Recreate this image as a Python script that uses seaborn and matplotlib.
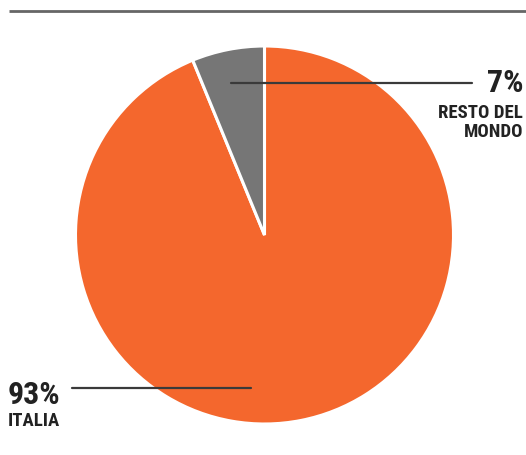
import matplotlib
matplotlib.use("Agg")
import matplotlib.pyplot as plt
import seaborn as sns

# data
labels = ["ITALIA", "RESTO DEL\nMONDO"]
pct_labels = ["93%", "7%"]
values = [93.8, 6.2]
colors = ["#F4672D", "#767676"]

sns.set_theme(style="white")
plt.rcParams["font.family"] = ["Roboto Condensed", "Liberation Sans Narrow", "Roboto", "DejaVu Sans"]

H = 456
fig = plt.figure(figsize=(5.26, 4.56), dpi=100)
ax = fig.add_axes([0, 0, 1, 1])

cx, cy, r = 264.5, H - 236, 189
ax.pie(values, colors=sns.color_palette(colors), startangle=90, counterclock=False,
       center=(cx, cy), radius=r,
       wedgeprops=dict(edgecolor="white", linewidth=2.2))
ax.set_xlim(0, 526)
ax.set_ylim(0, H)
ax.set_aspect("equal")
ax.axis("off")

# top rule
ax.plot([9, 526], [H - 12, H - 12], color="#666666", lw=2, solid_capstyle="butt")

# leader lines and labels
ax.plot([231, 472], [H - 84, H - 84], color="#3a3a3a", lw=1.6)
ax.text(524, H - 92, pct_labels[1], ha="right", va="baseline", fontsize=23,
        fontweight="bold", color="#222222")
ax.text(523, H - 137, labels[1], ha="right", va="baseline", fontsize=13.5,
        fontweight="bold", color="#222222", linespacing=1.1, multialignment="right")

ax.plot([72, 251], [H - 389, H - 389], color="#3a3a3a", lw=1.6)
ax.text(8, H - 404, pct_labels[0], ha="left", va="baseline", fontsize=23,
        fontweight="bold", color="#222222")
ax.text(8, H - 426, labels[0], ha="left", va="baseline", fontsize=13.5,
        fontweight="bold", color="#222222")

fig.savefig("out.png", dpi=100)
